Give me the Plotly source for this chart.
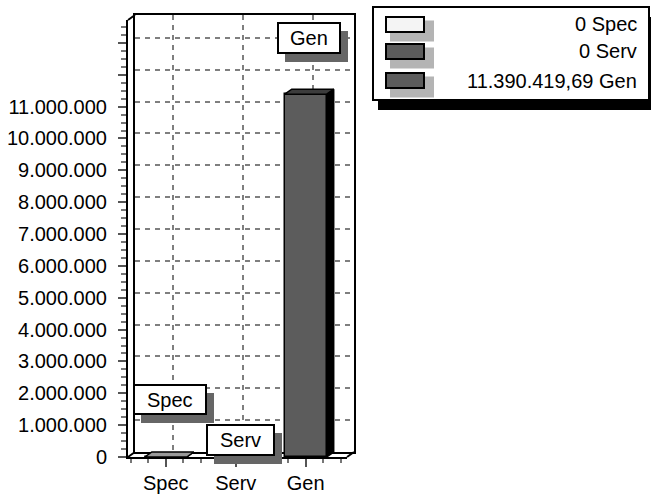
import plotly.graph_objects as go

# ---------------- data ----------------
categories = ["Spec", "Serv", "Gen"]
values = [0, 0, 11390419.69]
bar_colors = ["#f4f4f4", "#5c5c5c", "#5c5c5c"]
top_colors = ["#9a9a9a", "#3c3c3c", "#3c3c3c"]
side_colors = ["#000000", "#000000", "#000000"]
y_ticks = list(range(0, 14_000_000, 1_000_000))
y_label_max = 11_000_000
y_max = 13_720_000

# ---------------- geometry (pixels) ----------------
W, H = 651, 498
FX0, FX1 = 128, 347      # front plane x
FYB, FYT = 457, 20       # front plane y bottom/top
DX, DY = 7, 5            # depth offset
XR = [-0.54, 2.59]
BAR_W = 0.6
FONT = "Arial, Liberation Sans, sans-serif"


def px(x):
    return x / W


def py(y):
    return 1 - y / H


def fmt(v):
    if abs(v - round(v)) < 1e-9:
        s = f"{int(round(v)):,}".replace(",", ".")
    else:
        s = f"{v:,.2f}".replace(",", "X").replace(".", ",").replace("X", ".")
    return s


fig = go.Figure()

# back plane subplot (xy): gridlines + frame
fig.add_trace(go.Scatter(x=[None], y=[None], xaxis="x", yaxis="y", showlegend=False, hoverinfo="skip"))

# front subplot (x2y2): bars
fig.add_trace(go.Bar(
    x=list(range(len(categories))), y=values, width=BAR_W,
    marker=dict(color=bar_colors, line=dict(color="black", width=1.5)),
    xaxis="x2", yaxis="y2", showlegend=False, hoverinfo="skip",
))

px_per_cat = (FX1 - FX0) / (XR[1] - XR[0])
px_per_unit = (FYB - FYT) / y_max
ddx = DX / px_per_cat
ddy = DY / px_per_unit
h = BAR_W / 2
for i, v in enumerate(values):
    c = i
    # side face
    fig.add_trace(go.Scatter(
        x=[c + h, c + h + ddx, c + h + ddx, c + h, c + h],
        y=[0, ddy, v + ddy, v, 0],
        fill="toself", fillcolor=side_colors[i], mode="lines",
        line=dict(color="black", width=1.5),
        xaxis="x2", yaxis="y2", showlegend=False, hoverinfo="skip"))
    # top face
    fig.add_trace(go.Scatter(
        x=[c - h, c - h + ddx, c + h + ddx, c + h, c - h],
        y=[v, v + ddy, v + ddy, v, v],
        fill="toself", fillcolor=top_colors[i], mode="lines",
        line=dict(color="black", width=1.5),
        xaxis="x2", yaxis="y2", showlegend=False, hoverinfo="skip"))

tick_text = [fmt(t) if t <= y_label_max else "" for t in y_ticks]

grid_style = dict(showgrid=True, gridcolor="#7f7f7f", gridwidth=2, griddash="5px,5px")

fig.update_layout(
    width=W, height=H,
    margin=dict(l=0, r=0, t=0, b=0, autoexpand=False),
    paper_bgcolor="white", plot_bgcolor="rgba(0,0,0,0)",
    font=dict(family=FONT, size=20, color="black"),
    showlegend=False,
    bargap=0,
    xaxis=dict(domain=[px(FX0 + DX), px(FX1 + DX)], range=XR, anchor="y", automargin=False,
               tickmode="array", tickvals=list(range(len(categories))),
               showticklabels=False, ticks="",
               showline=True, mirror=True, linecolor="black", linewidth=2,
               zeroline=False, **grid_style),
    yaxis=dict(domain=[py(FYB - DY), py(FYT - DY)], range=[0, y_max], anchor="x", automargin=False,
               tickmode="array", tickvals=y_ticks, showticklabels=False, ticks="",
               showline=True, mirror=True, linecolor="black", linewidth=2,
               zeroline=False, **grid_style),
    xaxis2=dict(domain=[px(FX0), px(FX1)], range=XR, anchor="y2", automargin=False,
                tickmode="array", tickvals=list(range(len(categories))), ticktext=categories,
                ticks="outside", ticklen=8, tickwidth=2, tickcolor="#555555",
                minor=dict(tickmode="linear", tick0=0, dtick=0.25, ticks="outside",
                           ticklen=4, tickwidth=2, tickcolor="#777777", showgrid=False),
                showline=True, linecolor="black", linewidth=2, showgrid=False, zeroline=False,
                ticklabelstandoff=-1, tickfont=dict(size=20, family=FONT, color="black")),
    yaxis2=dict(domain=[py(FYB), py(FYT)], range=[0, y_max], anchor="x2", automargin=False,
                tickmode="array", tickvals=y_ticks, ticktext=tick_text,
                ticks="outside", ticklen=8, tickwidth=2, tickcolor="#555555",
                minor=dict(tickmode="linear", tick0=0, dtick=250000, ticks="outside",
                           ticklen=5, tickwidth=2, tickcolor="#777777", showgrid=False),
                showline=True, linecolor="black", linewidth=2, showgrid=False, zeroline=False,
                ticklabelstandoff=7, tickfont=dict(size=20, family=FONT, color="black")),
)

shapes = []
annotations = []


def line(x0, y0, x1, y1, w=2, color="black"):
    shapes.append(dict(type="line", xref="paper", yref="paper",
                       x0=px(x0), y0=py(y0), x1=px(x1), y1=py(y1),
                       line=dict(color=color, width=w)))


def rect(x0, y0, x1, y1, fill, lc=None, lw=0, layer="above"):
    shapes.append(dict(type="rect", xref="paper", yref="paper", layer=layer,
                       x0=px(x0), y0=py(y0), x1=px(x1), y1=py(y1),
                       fillcolor=fill,
                       line=dict(color=lc if lc else fill, width=lw)))


# 3D wall / floor edges
line(FX0, FYT, FX0 + DX, FYT - DY)
line(FX0, FYB, FX0 + DX, FYB - DY)
line(FX1, FYB, FX1 + DX, FYB - DY)

# label boxes with shadows (Spec, Serv, Gen)
label_boxes = [(134, 385, 206, 414), (207, 425, 274, 455), (278, 23, 340, 53)]
for (x0, y0, x1, y1), name in zip(label_boxes, categories):
    rect(x0 + 7, y0 + 8, x1 + 8, y1 + 9, "#666666")
    rect(x0, y0, x1, y1, "white", "black", 2)
    annotations.append(dict(xref="paper", yref="paper", x=px((x0 + x1) / 2), y=py((y0 + y1) / 2),
                            text=name, showarrow=False, xanchor="center", yanchor="middle",
                            font=dict(size=20, family=FONT, color="black")))

# legend box
rect(378, 17, 660, 110, "black")
rect(373, 7, 649, 100, "white", "black", 2)
row_y = [24.5, 51.5, 80.5]
for i, (name, v) in enumerate(zip(categories, values)):
    yc = row_y[i]
    rect(390, yc - 4, 434, yc + 17, "#b4b4b4")
    rect(386, yc - 7.5, 424, yc + 7.5, bar_colors[i], "black", 2)
    annotations.append(dict(xref="paper", yref="paper", x=px(639), y=py(yc),
                            text=f"{fmt(v)} {name}", showarrow=False,
                            xanchor="right", yanchor="middle",
                            font=dict(size=20, family=FONT, color="black")))

fig.update_layout(shapes=shapes, annotations=annotations)
fig.write_html(
    "out.html",
    config={"displayModeBar": False},
    post_script=("document.body.style.margin='0px';"
                 "document.documentElement.style.overflow='hidden';"
                 "document.body.style.overflow='hidden';"),
)
